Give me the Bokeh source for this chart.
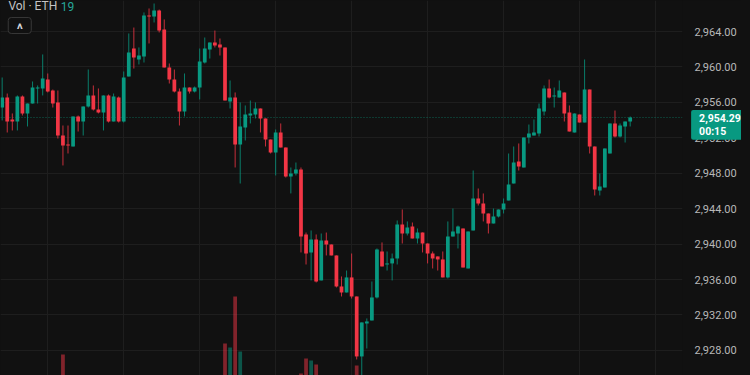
from bokeh.plotting import figure
from bokeh.models import (Range1d, FixedTicker, NumeralTickFormatter, Span, Label, BoxAnnotation,
                          ColumnDataSource, GlobalInlineStyleSheet)
from bokeh.embed import file_html
from bokeh.resources import INLINE

# ---- data (ETH 1-minute candles) ----
opens = [2955.42, 2956.55, 2954.07, 2953.84, 2956.66, 2954.75, 2955.87, 2957.57, 2957.57, 2958.58,
         2957.34, 2955.99, 2952.26, 2951.25, 2951.02, 2954.41, 2953.84, 2955.54, 2956.78, 2955.20,
         2954.86, 2956.78, 2953.84, 2956.55, 2953.84, 2958.92, 2962.08, 2960.84, 2961.18, 2965.81,
         2965.69, 2966.37, 2964.23, 2959.94, 2958.58, 2957.23, 2954.97, 2957.68, 2957.23, 2957.68,
         2960.50, 2961.97, 2962.76, 2962.53, 2962.20, 2956.10, 2956.55, 2951.25, 2953.17, 2954.52,
         2954.63, 2955.31, 2954.18, 2951.81, 2950.34, 2952.60, 2950.91, 2947.63, 2947.97, 2948.42,
         2941.09, 2939.06, 2940.52, 2935.90, 2940.41, 2939.96, 2938.72, 2935.22, 2934.54, 2936.24,
         2934.09, 2927.32, 2931.04, 2931.38, 2933.98, 2939.17, 2937.70, 2937.82, 2938.38, 2942.22,
         2941.20, 2941.99, 2940.64, 2941.31, 2940.07, 2938.94, 2938.61, 2938.27, 2936.24, 2940.86,
         2941.20, 2941.77, 2937.25, 2941.54, 2945.15, 2944.59, 2943.46, 2942.33, 2943.12, 2943.91,
         2944.93, 2946.84, 2949.33, 2948.65, 2952.04, 2952.26, 2952.49, 2954.97, 2957.57, 2956.66,
         2956.55, 2957.12, 2954.86, 2952.60, 2954.63, 2953.73, 2957.45, 2951.02, 2946.05, 2946.39,
         2950.23, 2953.62, 2952.15, 2953.28, 2953.84]
highs = [2958.81, 2957.00, 2954.75, 2956.78, 2956.78, 2955.87, 2958.36, 2957.91, 2961.41, 2959.26,
         2957.45, 2957.34, 2953.39, 2953.39, 2954.41, 2954.52, 2955.54, 2959.71, 2957.91, 2957.57,
         2956.78, 2956.89, 2957.00, 2956.66, 2959.49, 2963.78, 2964.45, 2962.20, 2966.15, 2966.60,
         2967.16, 2966.48, 2965.36, 2960.39, 2959.71, 2957.57, 2959.26, 2957.68, 2957.79, 2962.08,
         2963.32, 2962.76, 2964.11, 2963.21, 2962.20, 2958.47, 2957.12, 2955.99, 2955.65, 2956.21,
         2955.99, 2955.31, 2954.18, 2951.81, 2952.94, 2953.62, 2950.91, 2948.65, 2949.21, 2948.65,
         2941.31, 2941.54, 2941.09, 2941.20, 2941.31, 2939.96, 2938.72, 2936.35, 2937.02, 2938.94,
         2934.09, 2931.16, 2931.61, 2935.78, 2939.51, 2940.19, 2939.17, 2938.94, 2942.67, 2943.91,
         2942.56, 2942.44, 2941.77, 2941.31, 2940.07, 2939.17, 2938.61, 2939.17, 2942.56, 2944.02,
         2942.10, 2941.77, 2941.43, 2948.31, 2946.28, 2945.72, 2943.46, 2944.02, 2943.91, 2945.15,
         2950.23, 2951.02, 2951.36, 2952.04, 2953.50, 2954.07, 2955.87, 2957.91, 2958.58, 2957.68,
         2958.47, 2957.12, 2955.65, 2954.75, 2954.63, 2960.84, 2957.45, 2951.02, 2947.97, 2950.80,
         2953.62, 2955.08, 2953.62, 2953.84, 2954.41]
lows = [2953.96, 2952.60, 2952.83, 2952.83, 2954.52, 2953.28, 2955.87, 2955.87, 2956.78, 2957.12,
        2955.42, 2951.92, 2948.88, 2950.23, 2951.02, 2952.71, 2952.26, 2955.42, 2955.08, 2954.75,
        2952.83, 2953.73, 2953.84, 2953.73, 2953.73, 2958.92, 2959.82, 2960.28, 2960.50, 2962.65,
        2965.02, 2963.89, 2959.94, 2958.13, 2957.12, 2953.39, 2954.41, 2957.00, 2957.12, 2956.33,
        2960.39, 2960.95, 2962.20, 2961.29, 2956.21, 2955.31, 2948.65, 2946.84, 2951.70, 2953.62,
        2954.18, 2952.60, 2951.02, 2950.23, 2947.75, 2950.91, 2947.52, 2945.72, 2947.75, 2939.06,
        2937.70, 2935.90, 2935.67, 2935.90, 2938.72, 2938.72, 2935.11, 2934.09, 2934.54, 2933.86,
        2926.98, 2924.61, 2928.22, 2931.38, 2933.86, 2937.48, 2937.02, 2935.90, 2937.70, 2940.07,
        2940.98, 2940.64, 2940.07, 2939.06, 2937.82, 2937.25, 2937.02, 2936.24, 2936.12, 2940.86,
        2939.51, 2937.36, 2937.25, 2941.54, 2944.36, 2942.56, 2941.20, 2942.33, 2943.01, 2943.46,
        2944.93, 2946.84, 2948.31, 2948.65, 2951.36, 2952.26, 2952.15, 2954.52, 2956.44, 2955.42,
        2956.55, 2953.84, 2952.71, 2952.60, 2953.73, 2953.73, 2950.23, 2945.49, 2945.49, 2946.39,
        2950.23, 2952.04, 2952.04, 2951.47, 2953.28]
closes = [2956.55, 2953.84, 2953.84, 2956.66, 2954.75, 2955.87, 2957.68, 2957.68, 2958.70, 2957.23,
          2955.87, 2952.26, 2951.13, 2951.13, 2954.41, 2953.84, 2955.54, 2956.78, 2955.20, 2954.86,
          2956.78, 2953.84, 2956.66, 2953.84, 2958.81, 2961.63, 2961.07, 2961.29, 2965.81, 2965.69,
          2966.37, 2964.11, 2959.94, 2958.58, 2957.23, 2954.97, 2957.68, 2957.23, 2957.68, 2960.61,
          2962.08, 2962.76, 2962.42, 2962.20, 2956.21, 2956.55, 2951.25, 2953.28, 2954.63, 2954.75,
          2955.31, 2954.18, 2951.81, 2950.34, 2952.60, 2950.91, 2947.63, 2947.97, 2948.42, 2940.86,
          2938.94, 2940.52, 2935.78, 2940.41, 2939.96, 2938.72, 2935.22, 2934.54, 2936.24, 2934.09,
          2927.32, 2931.16, 2931.27, 2933.98, 2939.40, 2937.48, 2937.82, 2938.38, 2942.22, 2941.20,
          2941.88, 2940.64, 2941.31, 2940.07, 2938.94, 2938.38, 2938.27, 2936.24, 2940.86, 2941.43,
          2941.99, 2937.36, 2941.43, 2945.15, 2944.59, 2943.46, 2942.33, 2943.12, 2943.91, 2944.59,
          2946.73, 2949.21, 2948.76, 2952.04, 2952.49, 2952.60, 2955.31, 2957.57, 2956.55, 2956.78,
          2957.34, 2954.75, 2952.71, 2954.75, 2953.73, 2957.45, 2951.02, 2946.17, 2946.51, 2950.80,
          2953.62, 2952.15, 2953.39, 2953.84, 2954.29]

# volume bars that rise into view (candle index, volume)
vol_index = [12, 44, 45, 46, 47, 59, 60, 61, 62, 70]
vol_value = [51, 62, 58, 109, 54, 32, 47, 45, 41, 40]

price_ticks = [2928, 2932, 2936, 2940, 2944, 2948, 2952, 2956, 2960, 2964]
time_grid = [9, 24, 39, 54, 69, 84, 99, 114, 129]
last_price = 2954.29
last_price_text = "2,954.29"
countdown = "00:15"
legend_title = "Vol · ETH"
legend_value = "19"

# ---- styles ----
GREEN = "#089981"
RED = "#F23645"
BG = "#111111"
GRID = "#1e1e1e"
FONT = "Roboto"
SCALE_EDGE = 134.28   # where the price scale area begins (in bar units)

x = list(range(len(opens)))
colors = [GREEN if c >= o else RED for o, c in zip(opens, closes)]
src = ColumnDataSource(dict(
    x=x,
    top=[max(o, c) for o, c in zip(opens, closes)],
    bottom=[min(o, c) for o, c in zip(opens, closes)],
    high=highs, low=lows, color=colors))
vsrc = ColumnDataSource(dict(x=vol_index, top=vol_value,
                             color=[colors[i] for i in vol_index]))

p = figure(width=741, height=375, output_backend="svg", toolbar_location=None,
           x_range=Range1d(-0.33, 145.98), y_range=Range1d(2925.17, 2967.5),
           y_axis_location="right",
           min_border_left=0, min_border_top=0, min_border_bottom=0, min_border_right=0,
           background_fill_color=BG, border_fill_color=BG, outline_line_color=None)
p.stylesheets = [GlobalInlineStyleSheet(css="body{background:#111111;}")]

p.extra_y_ranges = {"vol": Range1d(30, 405)}

p.xaxis.visible = False
p.xgrid.ticker = FixedTicker(ticks=time_grid)
p.xgrid.grid_line_color = GRID
p.ygrid.grid_line_color = GRID

# last-price dotted line (kept under the price-scale cover)
p.add_layout(Span(location=last_price, dimension="width", line_color=GREEN,
                  line_dash="1 2", line_width=1, line_alpha=0.6, level="underlay"))
# price scale area: no grid there
p.add_layout(BoxAnnotation(left=SCALE_EDGE, fill_color=BG, fill_alpha=1.0,
                           line_color=None, level="underlay"))

p.vbar(x="x", top="top", bottom=0, width=0.74, y_range_name="vol", source=vsrc,
       fill_color="color", fill_alpha=0.5, line_color=None)
p.segment(x0="x", y0="high", x1="x", y1="low", line_color="color", line_alpha=0.8,
          line_width=1, source=src)
p.vbar(x="x", top="top", bottom="bottom", width=0.74, fill_color="color",
       line_color=None, source=src)

ya = p.yaxis[0]
ya.ticker = FixedTicker(ticks=price_ticks)
ya.formatter = NumeralTickFormatter(format="0,0.00")
ya.axis_line_color = None
ya.major_tick_line_color = None
ya.minor_tick_line_color = None
ya.major_label_standoff = -53
ya.major_label_text_color = "#b8b8b8"
ya.major_label_text_font = FONT
ya.major_label_text_font_size = "11px"

# last price badge on the price scale
p.add_layout(Label(x=136.03, y=2955.15, text=last_price_text + "\n" + countdown,
                   text_align="left", text_baseline="top", text_color="white",
                   text_font=FONT, text_font_size="10.5px", text_font_style="bold",
                   text_line_height=0.98, background_fill_color=GREEN,
                   padding=(8, 3, 2, 2), border_radius=2))

# legend
p.add_layout(Label(x=1.23, y=2966.83, text=legend_title, text_align="left",
                   text_baseline="alphabetic", text_color="#c4c4c4",
                   text_font=FONT, text_font_size="12px"))
p.add_layout(Label(x=11.57, y=2966.83, text=legend_value, text_align="left",
                   text_baseline="alphabetic", text_color="#26a69a",
                   text_font=FONT, text_font_size="12px"))
# collapse button
p.add_layout(Label(x=3.47, y=2964.68, text="^", text_align="center",
                   text_baseline="middle", text_color=BG, text_font=FONT,
                   text_font_size="12px", background_fill_color=BG,
                   border_line_color="#383838", border_line_width=1,
                   padding=(9, 9, 1, 1), border_radius=3))
p.add_layout(Label(x=3.47, y=2964.27, text="^", text_align="center",
                   text_baseline="middle", text_color="#d1d4dc", text_font=FONT,
                   text_font_size="14px", text_font_style="bold"))

open("out.html", "w").write(file_html(p, INLINE))
